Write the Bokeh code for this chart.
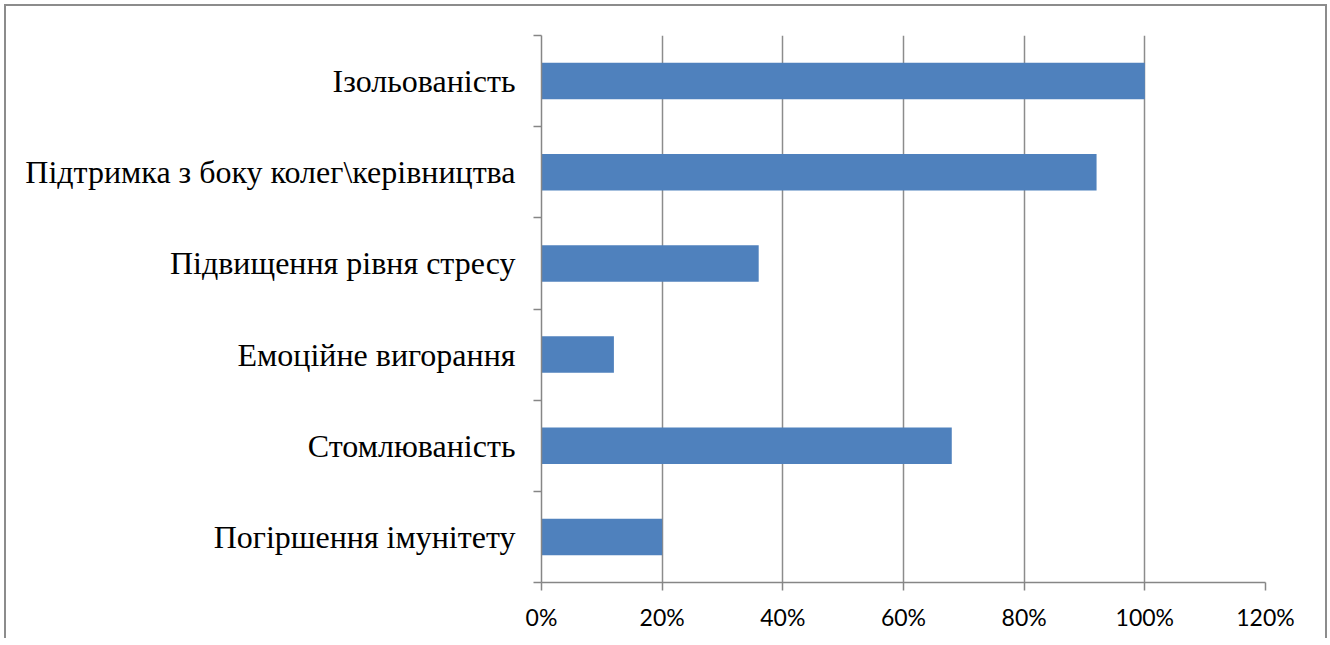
from bokeh.plotting import figure
from bokeh.models import Range1d, FixedTicker, NumeralTickFormatter
from bokeh.embed import file_html
from bokeh.resources import INLINE

# Data (bottom to top order as drawn)
categories = ["Погіршення імунітету", "Стомлюваність", "Емоційне вигорання",
              "Підвищення рівня стресу", "Підтримка з боку колег\\керівництва", "Ізольованість"]
values = [0.20, 0.68, 0.12, 0.36, 0.92, 1.00]
x_ticks = [0, 0.2, 0.4, 0.6, 0.8, 1.0, 1.2]

n = len(categories)
centers = [i + 0.5 for i in range(n)]

p = figure(frame_width=724, frame_height=547,
           min_border_left=535, min_border_right=60, min_border_top=29, min_border_bottom=56,
           x_range=Range1d(0, 1.2), y_range=Range1d(0, n),
           output_backend="svg", toolbar_location=None)
p.styles = {"border-top": "2px solid #8c8c8c", "border-left": "2px solid #8c8c8c",
            "border-right": "2px solid #8c8c8c", "margin-left": "4px", "margin-top": "4px"}
p.outline_line_color = None
p.background_fill_color = "white"
p.border_fill_color = "white"

p.hbar(y=centers, right=values, left=0, height=0.4, color="#4f81bd", line_color=None)

axis_col = "#868686"
# x axis
xa = p.xaxis[0]
xa.ticker = FixedTicker(ticks=x_ticks)
xa.formatter = NumeralTickFormatter(format="0%")
xa.axis_line_color = axis_col
xa.axis_line_width = 1.5
xa.major_tick_line_color = axis_col
xa.major_tick_line_width = 1.5
xa.major_tick_out = 8
xa.major_tick_in = 0
xa.minor_tick_line_color = None
xa.major_label_text_font = "Lato"
xa.major_label_text_font_size = "23px"
xa.major_label_text_color = "black"
xa.major_label_standoff = 12

# y axis: labels at centers, ticks at category boundaries (minor ticks)
ya = p.yaxis[0]
ya.ticker = FixedTicker(ticks=centers, minor_ticks=list(range(n + 1)))
ya.major_label_overrides = {c: lab for c, lab in zip(centers, categories)}
ya.axis_line_color = axis_col
ya.axis_line_width = 1.5
ya.major_tick_line_color = None
ya.major_tick_out = 0
ya.major_tick_in = 0
ya.minor_tick_line_color = axis_col
ya.minor_tick_line_width = 1.5
ya.minor_tick_out = 8
ya.minor_tick_in = 0
ya.major_label_text_font = "Liberation Serif"
ya.major_label_text_font_size = "32px"
ya.major_label_text_color = "black"
ya.major_label_standoff = 18

p.xgrid.ticker = FixedTicker(ticks=x_ticks)
p.xgrid.grid_line_color = "#8c8c8c"
p.xgrid.grid_line_width = 1.5
p.ygrid.grid_line_color = None

open("out.html", "w").write(file_html(p, INLINE))
